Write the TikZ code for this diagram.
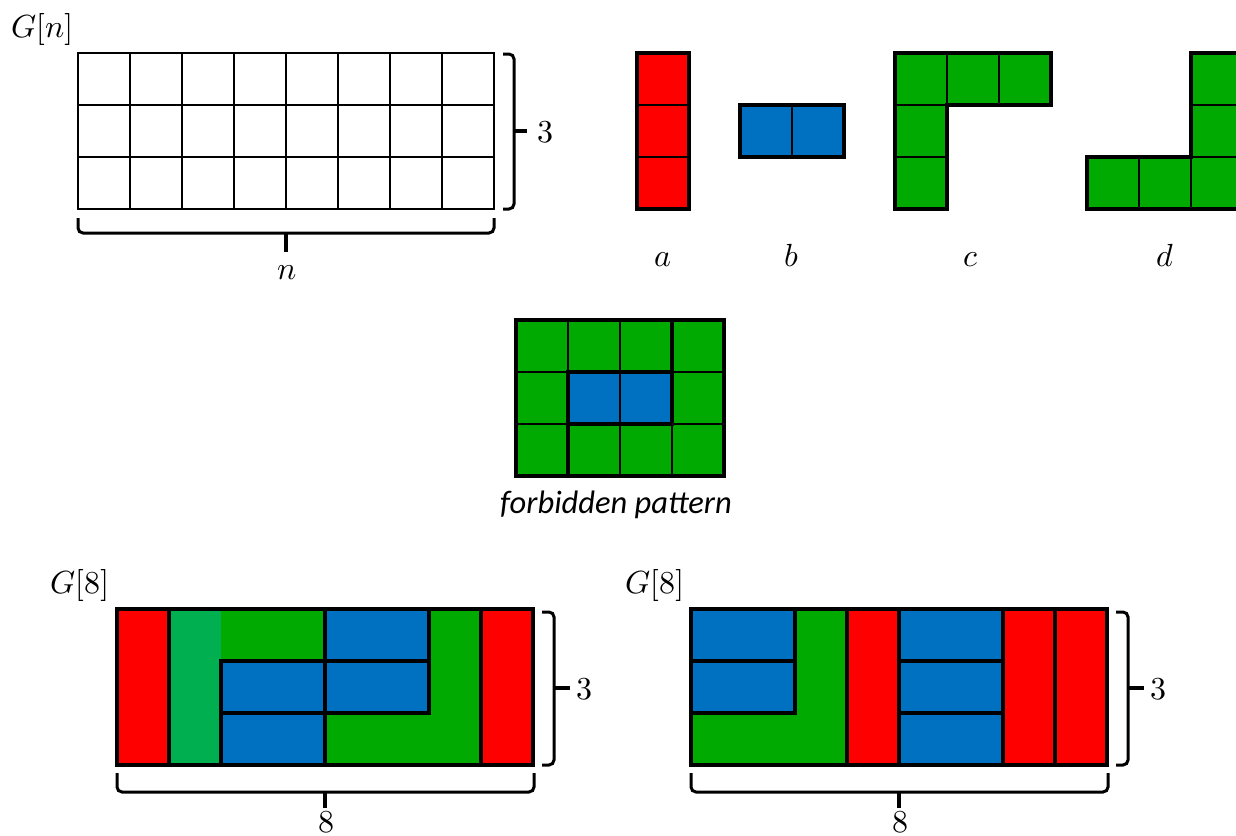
\documentclass[tikz,border=0pt]{standalone}
\usepackage{fontspec}
\usepackage{unicode-math}
\setmathfont{Latin Modern Math}
\newfontfamily\calibrifont{Carlito}
\definecolor{pred}{HTML}{FF0000}
\definecolor{pblue}{HTML}{0070C0}
\definecolor{pgreen}{HTML}{00AA00}
\definecolor{plgreen}{HTML}{00B050}
\begin{document}
\begin{tikzpicture}[x=1pt,y=-1pt,
  thinl/.style={line width=1.8pt, black, line cap=rect},
  thickl/.style={line width=4pt, black, line cap=rect, line join=miter},
  brc/.style={line width=3pt, black, rounded corners=5pt},
  tipl/.style={line width=3.5pt, black},
  lbl/.style={font=\fontsize{32}{38}\selectfont, inner sep=0pt, anchor=base},
  lblw/.style={lbl, anchor=base west},
  captxt/.style={font=\calibrifont\itshape\fontsize{32.5}{38}\selectfont, inner sep=0pt}]
\useasboundingbox (0,0) rectangle (1236,835);

% ---------- G[n] grid ----------
\foreach \i in {0,...,8} \draw[thinl] (78+52*\i,53) -- (78+52*\i,209);
\foreach \j in {0,...,3} \draw[thinl] (78,53+52*\j) -- (494,53+52*\j);
\node[lblw] (gn) at (11,37) {$G[n]$};
\draw[brc] (503,54) -- (514,54) -- (514,209) -- (503,209);
\draw[tipl] (514,131) -- (527,131);
\node[lbl] (three1) at (545,142) {$3$};
\draw[brc] (78,218) -- (78,233) -- (494,233) -- (494,218);
\draw[tipl] (286,233) -- (286,252);
\node[lbl] (nlab) at (287,279) {$n$};

% ---------- piece a ----------
\fill[pred] (637,53) rectangle (689,209);
\draw[thinl] (637,105) -- (689,105) (637,157) -- (689,157);
\draw[thickl] (637,53) rectangle (689,209);
\node[lbl] (la) at (663,266) {$a$};

% ---------- piece b ----------
\fill[pblue] (740,105) rectangle (844,157);
\draw[thinl] (792,105) -- (792,157);
\draw[thickl] (740,105) rectangle (844,157);
\node[lbl] (lb) at (792,266) {$b$};

% ---------- piece c ----------
\fill[pgreen] (895,53) rectangle (1051,105) (895,105) rectangle (947,209);
\draw[thinl] (947,53) -- (947,105) (999,53) -- (999,105) (895,105) -- (947,105) (895,157) -- (947,157);
\draw[thickl] (895,53) -- (1051,53) -- (1051,105) -- (947,105) -- (947,209) -- (895,209) -- cycle;
\node[lbl] (lc) at (971,266) {$c$};

% ---------- piece d ----------
\fill[pgreen] (1191,53) rectangle (1243,209) (1087,157) rectangle (1243,209);
\draw[thinl] (1191,105) -- (1243,105) (1191,157) -- (1243,157) (1139,157) -- (1139,209) (1191,157) -- (1191,209);
\draw[thickl] (1191,53) -- (1243,53) -- (1243,209) -- (1087,209) -- (1087,157) -- (1191,157) -- cycle;
\node[lbl] (ld) at (1165,266) {$d$};

% ---------- forbidden pattern ----------
\fill[pgreen] (516,320) rectangle (724,476);
\fill[pblue] (568,372) rectangle (672,424);
\foreach \i in {1,2,3} \draw[thinl] (516+52*\i,320) -- (516+52*\i,476);
\foreach \j in {1,2} \draw[thinl] (516,320+52*\j) -- (724,320+52*\j);
\draw[thickl] (516,320) rectangle (724,476);
\draw[thickl] (568,372) rectangle (672,424);
\draw[thickl] (672,320) -- (672,372) (568,424) -- (568,476);
\node[captxt] (fp) at (616,505) {forbidden pattern};

% ---------- G[8] left ----------
\fill[pred] (117,609) rectangle (169,765);
\fill[plgreen] (169,609) rectangle (221,765);
\fill[pgreen] (221,609) rectangle (325,661);
\fill[pblue] (325,609) rectangle (429,661);
\fill[pblue] (221,661) rectangle (429,713);
\fill[pblue] (221,713) rectangle (325,765);
\fill[pgreen] (429,609) rectangle (481,765);
\fill[pgreen] (325,713) rectangle (429,765);
\fill[pred] (481,609) rectangle (533,765);
\draw[thickl] (169,609) -- (169,765);
\draw[thickl] (221,765) -- (221,661) -- (429,661);
\draw[thickl] (325,609) -- (325,765);
\draw[thickl] (429,609) -- (429,713) -- (221,713);
\draw[thickl] (481,609) -- (481,765);
\draw[thickl] (117,609) rectangle (533,765);
\node[lblw] (g8a) at (50,593) {$G[8]$};
\draw[brc] (542,612) -- (554,612) -- (554,765) -- (542,765);
\draw[tipl] (554,688) -- (570,688);
\node[lbl] (three2) at (584,699) {$3$};
\draw[brc] (117,773) -- (117,792) -- (534,792) -- (534,773);
\draw[tipl] (325,792) -- (325,808);
\node[lbl] (eight1) at (326,832) {$8$};

% ---------- G[8] right ----------
\fill[pblue] (691,609) rectangle (795,713);
\fill[pgreen] (795,609) rectangle (847,765) (691,713) rectangle (795,765);
\fill[pred] (847,609) rectangle (899,765);
\fill[pblue] (899,609) rectangle (1003,765);
\fill[pred] (1003,609) rectangle (1107,765);
\draw[thickl] (691,661) -- (795,661);
\draw[thickl] (691,713) -- (795,713) -- (795,609);
\draw[thickl] (847,609) -- (847,765);
\draw[thickl] (899,609) -- (899,765);
\draw[thickl] (899,661) -- (1003,661) (899,713) -- (1003,713);
\draw[thickl] (1003,609) -- (1003,765);
\draw[thickl] (1055,609) -- (1055,765);
\draw[thickl] (691,609) rectangle (1107,765);
\node[lblw] (g8b) at (625,593) {$G[8]$};
\draw[brc] (1116,612) -- (1128,612) -- (1128,765) -- (1116,765);
\draw[tipl] (1128,688) -- (1144,688);
\node[lbl] (three3) at (1158,699) {$3$};
\draw[brc] (691,773) -- (691,792) -- (1108,792) -- (1108,773);
\draw[tipl] (899,792) -- (899,808);
\node[lbl] (eight2) at (900,832) {$8$};
\end{tikzpicture}
\end{document}
